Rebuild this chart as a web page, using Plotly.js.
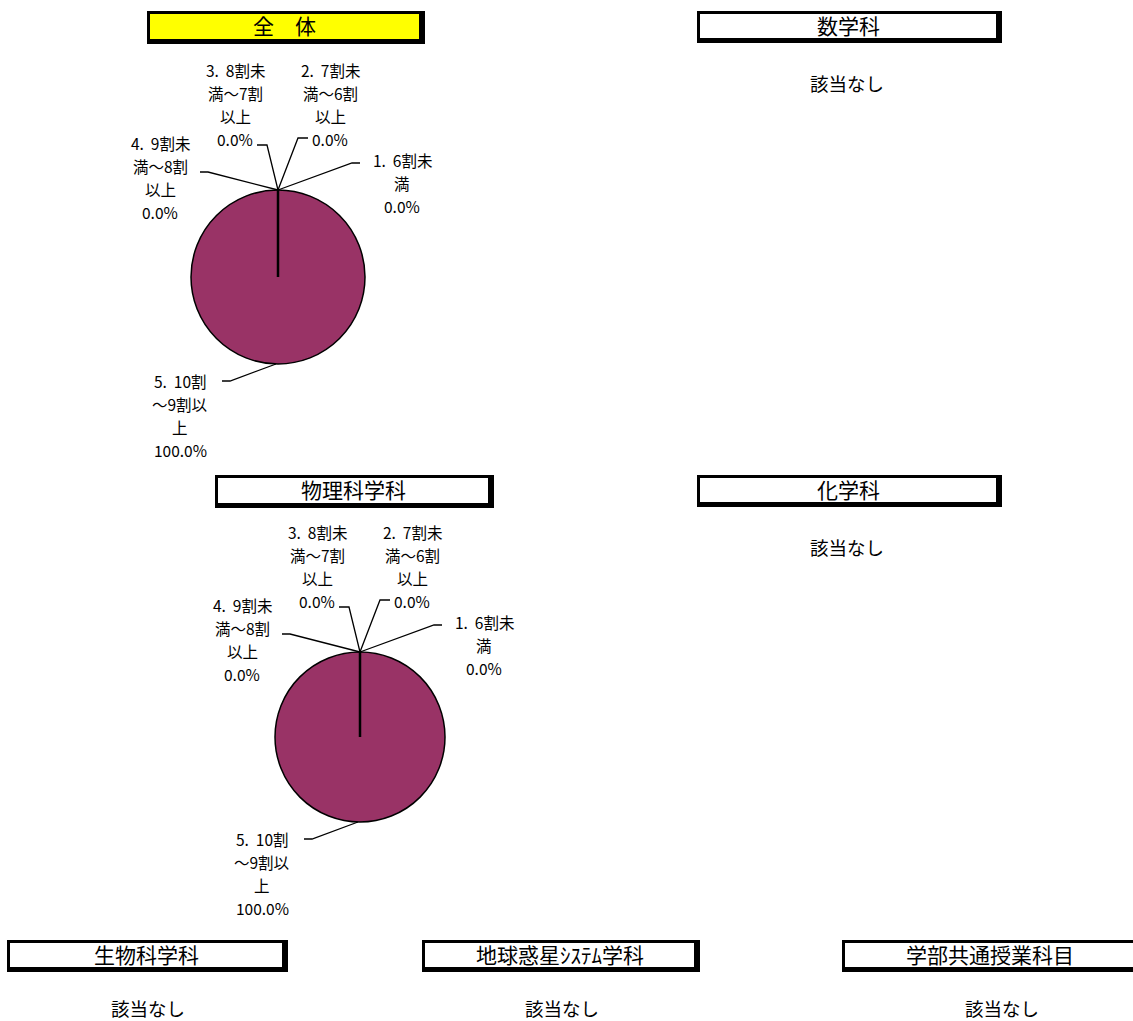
<!DOCTYPE html>
<html>
<head>
<meta charset="utf-8">
<script src="https://cdn.plot.ly/plotly-3.0.1.min.js"></script>
<style>body{margin:0;background:#fff}#plot{width:1133px;height:1021px}</style>
</head>
<body>
<div id="plot"></div>
<script>
var categories = ['1. 6割未満', '2. 7割未満～6割以上', '3. 8割未満～7割以上', '4. 9割未満～8割以上', '5. 10割～9割以上'];
var zentaiValues = [0, 0, 0, 0, 100];
var butsuriValues = [0, 0, 0, 0, 100];
// wrapped label lines as they appear in the chart (percent added later)
var labelLines = [
  ['1.  6割未', '満'],
  ['2.  7割未', '満～6割', '以上'],
  ['3.  8割未', '満～7割', '以上'],
  ['4.  9割未', '満～8割', '以上'],
  ['5.  10割', '～9割以', '上']
];
var sliceColors = ['#9999FF', '#993366', '#FFFFCC', '#CCFFFF', '#993366'];
var panelTitles = ['全　体', '数学科', '物理科学科', '化学科', '生物科学科', '地球惑星ｼｽﾃﾑ学科', '学部共通授業科目'];
var noDataText = '該当なし';

var W = 1133, H = 1021;
var FONT = '"Noto Sans CJK JP", "Noto Sans", sans-serif';
function px(x) { return x / W; }
function py(y) { return 1 - y / H; }

// boxes: [x0, y0, x1, y1, fill]
var boxes = [
  [147, 11, 424, 43, '#FFFF00'],
  [697, 11, 1001, 42, '#FFFFFF'],
  [215, 475, 493, 507, '#FFFFFF'],
  [697, 475, 1001, 506, '#FFFFFF'],
  [7, 940, 287, 971, '#FFFFFF'],
  [422, 940, 699, 971, '#FFFFFF'],
  [842, 940, 1140, 971, '#FFFFFF']
];
var noDataPos = [null, [847, 83], null, [847, 547], [148, 1008], [562, 1008], [1002, 1008]];

// pies: center and radius in pixels
var pies = [
  {cx: 278, cy: 277, r: 87, values: zentaiValues},
  {cx: 360, cy: 737, r: 85, values: butsuriValues}
];
// label geometry relative to pie top (labels 1-4) / bottom (label 5)
// [elbow dx, elbow dy, end dx, text center dx, first line dy]
var labelGeo = [
  [74, -27, 82, 124, -30],
  [20, -52, 30, 52, -120],
  [-11, -45, -21, -43, -120],
  [-70, -18, -78, -118, -47],
  [-46, 17, -54, -96, 17]
];
var lineGap = 23;

var data = [];
var shapes = [];
var annotations = [];

pies.forEach(function (p) {
  data.push({
    type: 'pie',
    labels: categories,
    values: p.values,
    sort: false,
    direction: 'clockwise',
    rotation: 0,
    textinfo: 'none',
    hoverinfo: 'label+percent',
    showlegend: false,
    marker: {colors: sliceColors, line: {color: '#000', width: 1.5}},
    domain: {x: [px(p.cx - p.r), px(p.cx + p.r)], y: [py(p.cy + p.r), py(p.cy - p.r)]}
  });
  var total = p.values.reduce(function (a, b) { return a + b; }, 0);
  // radius line at 12 o'clock
  shapes.push({type: 'line', xref: 'paper', yref: 'paper',
    x0: px(p.cx), y0: py(p.cy), x1: px(p.cx), y1: py(p.cy - p.r),
    line: {color: '#000', width: 2.5}});
  labelLines.forEach(function (lines, i) {
    var g = labelGeo[i];
    var ax = p.cx, ay = (i === 4) ? p.cy + p.r : p.cy - p.r;
    if (i === 4) ax = p.cx - 2;
    shapes.push({type: 'path', xref: 'paper', yref: 'paper',
      path: 'M' + px(ax) + ',' + py(ay) + ' L' + px(ax + g[0]) + ',' + py(ay + g[1]) + ' L' + px(ax + g[2]) + ',' + py(ay + g[1]),
      line: {color: '#000', width: 1.3}});
    var pct = (total ? p.values[i] / total * 100 : 0).toFixed(1) + '%';
    var all = lines.concat([pct]);
    all.forEach(function (t, k) {
      annotations.push({xref: 'paper', yref: 'paper', x: px(ax + g[3]), y: py(ay + g[4] + k * lineGap),
        text: t, showarrow: false, xanchor: 'center', yanchor: 'middle',
        font: {family: FONT, size: 15.5, color: '#000'}});
    });
  });
});

boxes.forEach(function (b, i) {
  // shadowed frame: black outer block, fill inset more on right/bottom
  shapes.push({type: 'rect', xref: 'paper', yref: 'paper',
    x0: px(b[0]), y0: py(b[3] + 1), x1: px(b[2] + 1), y1: py(b[1]),
    fillcolor: '#000', line: {width: 0}, layer: 'above'});
  shapes.push({type: 'rect', xref: 'paper', yref: 'paper',
    x0: px(b[0] + 3), y0: py(b[3] - 4), x1: px(b[2] - 5), y1: py(b[1] + 3),
    fillcolor: b[4], line: {width: 0}, layer: 'above'});
  annotations.push({xref: 'paper', yref: 'paper', x: px((b[0] + b[2]) / 2 - 1), y: py((b[1] + b[3]) / 2 - 2),
    text: panelTitles[i], showarrow: false, xanchor: 'center', yanchor: 'middle',
    font: {family: FONT, size: 21, color: '#000'}});
  if (noDataPos[i]) {
    annotations.push({xref: 'paper', yref: 'paper', x: px(noDataPos[i][0]), y: py(noDataPos[i][1]),
      text: noDataText, showarrow: false, xanchor: 'center', yanchor: 'middle',
      font: {family: FONT, size: 18.5, color: '#000'}});
  }
});

var layout = {
  width: W, height: H,
  margin: {l: 0, r: 0, t: 0, b: 0},
  paper_bgcolor: '#fff',
  showlegend: false,
  shapes: shapes,
  annotations: annotations
};

Plotly.newPlot('plot', data, layout, {displayModeBar: false, staticPlot: true});
</script>
</body>
</html>
